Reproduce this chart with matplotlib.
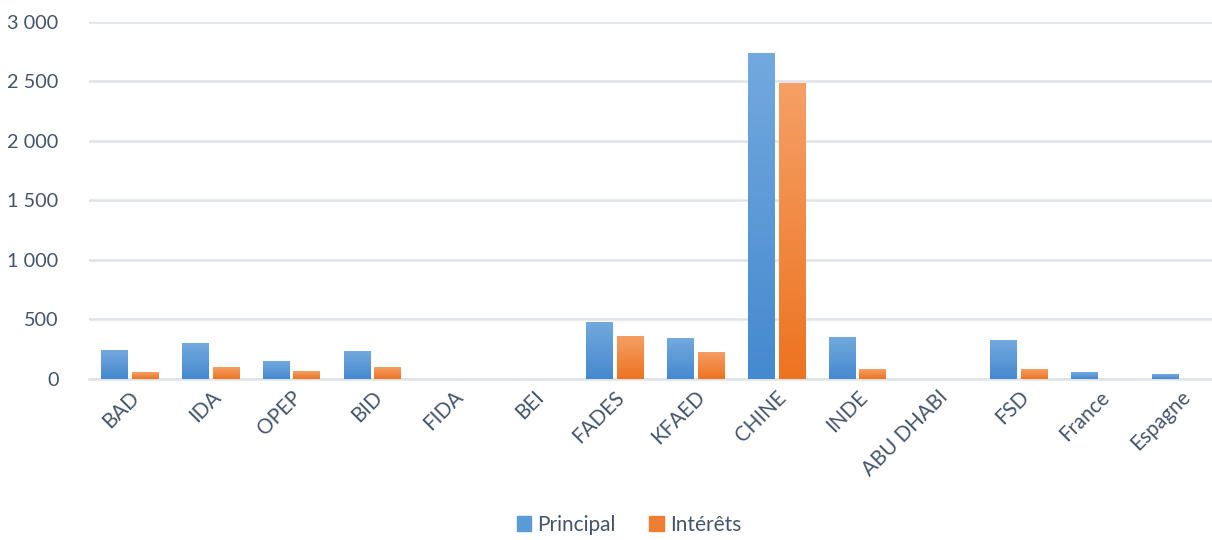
import numpy as np
import matplotlib.pyplot as plt
from matplotlib.ticker import FuncFormatter
from matplotlib.colors import LinearSegmentedColormap
from matplotlib.patches import Patch

categories = ['BAD', 'IDA', 'OPEP', 'BID', 'FIDA', 'BEI', 'FADES', 'KFAED',
              'CHINE', 'INDE', 'ABU DHABI', 'FSD', 'France', 'Espagne']
principal = [240, 299, 148, 232, 0, 0, 480, 340, 2740, 350, 0, 325, 56, 40]
interets = [56, 98, 64, 98, 0, 0, 362, 228, 2487, 82, 0, 82, 0, 0]

text_color = '#44546a'
grid_color = '#dfe3e8'
blue_top, blue_bot = '#73a9de', '#4589cf'
orange_top, orange_bot = '#f5a066', '#ed7320'

plt.rcParams['font.family'] = ['Lato', 'DejaVu Sans']

fig = plt.figure(figsize=(12.12, 5.40), dpi=100)
ax = fig.add_axes([89 / 1212, 1 - 378.7 / 540, 1 - 89 / 1212, (378.7 - 22) / 540])

x = np.arange(len(categories))
w = 0.322
off = 0.19


def gradient_bars(bars, top, bot):
    # vertical gradient fill, clipped to each bar
    cmap = LinearSegmentedColormap.from_list('g', [bot, top])
    grad = np.linspace(0, 1, 256).reshape(-1, 1)
    for b in bars:
        h = b.get_height()
        if h <= 0:
            continue
        x0 = b.get_x()
        im = ax.imshow(grad, cmap=cmap, origin='lower', aspect='auto',
                       extent=[x0, x0 + b.get_width(), 0, h], zorder=3)
        im.set_clip_path(b)
        b.set_alpha(0)


b1 = ax.bar(x - off, principal, w, color=blue_bot, label='Principal', zorder=3)
b2 = ax.bar(x + off, interets, w, color=orange_bot, label='Intérêts', zorder=3)
gradient_bars(b1, blue_top, blue_bot)
gradient_bars(b2, orange_top, orange_bot)

ax.set_xlim(-0.5, 13.39)
ax.set_ylim(0, 3000)
ax.set_yticks(np.arange(0, 3001, 500))
ax.yaxis.set_major_formatter(FuncFormatter(lambda v, p: f'{int(v):,}'.replace(',', ' ')))
ax.grid(axis='y', color=grid_color, linewidth=1.8, zorder=0)
ax.set_axisbelow(True)
for s in ['top', 'right', 'left']:
    ax.spines[s].set_visible(False)
ax.spines['bottom'].set_color(grid_color)
ax.spines['bottom'].set_linewidth(1.8)
ax.tick_params(axis='both', length=0, colors=text_color)
ax.tick_params(axis='y', pad=22, labelsize=14.3)
ax.set_xticks(x)
ax.set_xticklabels(categories, rotation=45, ha='right', rotation_mode='anchor')
ax.tick_params(axis='x', pad=6, labelsize=14.8)

handles = [Patch(color='#5b9bd5'), Patch(color='#ed7d31')]
fig.legend(handles, ['Principal', 'Intérêts'], loc='center', ncol=2,
           bbox_to_anchor=(629 / 1212, 0.028), frameon=False, fontsize=15,
           handlelength=0.7, handleheight=0.7, handletextpad=0.3,
           columnspacing=1.6, labelcolor=text_color, borderpad=0.1)

fig.savefig('out.png', dpi=100)
